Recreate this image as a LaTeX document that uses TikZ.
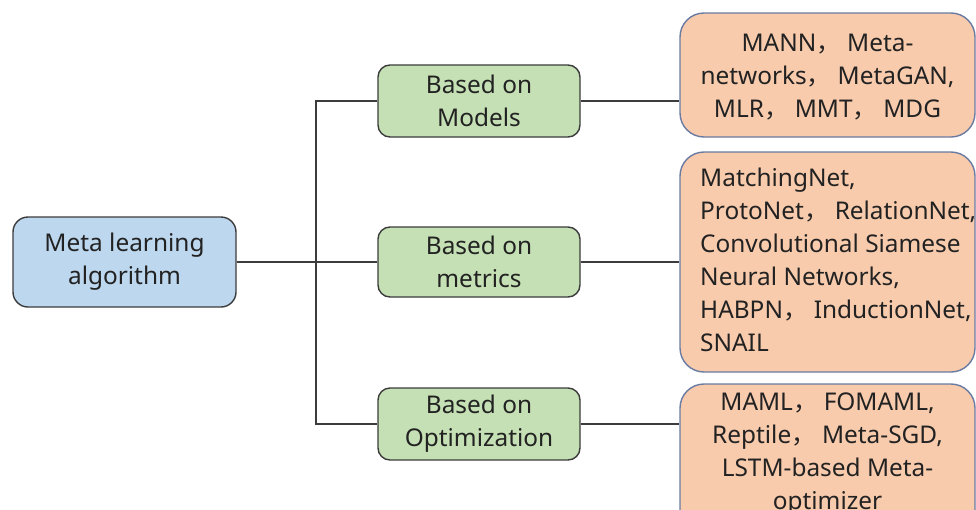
\documentclass[tikz,border=0pt]{standalone}
\usepackage{fontspec}
\setmainfont{Noto Sans}
\newfontfamily\cjk{Noto Sans CJK SC}
\newcommand\fc{{\cjk ，}\ }
\definecolor{bluefill}{HTML}{BDD7EE}
\definecolor{greenfill}{HTML}{C5E0B4}
\definecolor{orangefill}{HTML}{F8CBAD}
\definecolor{darkline}{HTML}{3C3C3C}
\definecolor{slateline}{HTML}{6A7BA2}
\definecolor{txt}{HTML}{222222}
\begin{document}
\begin{tikzpicture}[x=1pt,y=-1pt,
  boxtext/.style={font=\fontsize{24.4}{33}\selectfont, text=txt},
  rootbox/.style={draw=darkline, line width=1.4pt, fill=bluefill, rounded corners=15pt,
    minimum width=223pt, minimum height=90pt, inner sep=0pt, align=center, boxtext},
  greenbox/.style={draw=darkline, line width=1.4pt, fill=greenfill, rounded corners=12pt,
    minimum width=202pt, minimum height=72pt, inner sep=0pt, align=center, boxtext},
  orangebox/.style={draw=slateline, line width=1.4pt, fill=orangefill, rounded corners=24pt,
    minimum width=295pt, inner sep=0pt},
  conn/.style={draw=darkline, line width=1.3pt}
]
\path[use as bounding box] (0,0) rectangle (976,509);
\clip (0,0) rectangle (976,509);

\node[rootbox] (root) at (124.5,262) {Meta learning\\algorithm};
\node[greenbox] (g1) at (479,101) {Based on\\Models};
\node[greenbox, minimum height=70pt] (g2) at (479,262) {Based on\\metrics};
\node[greenbox] (g3) at (479,424) {Based on\\Optimization};

\node[orangebox, minimum height=124pt] (o1) at (827.5,75) {};
\node[boxtext, align=center, inner sep=0pt] (o1t) at (827.5,77)
  {MANN\fc Meta-\\networks\fc MetaGAN,\\MLR\fc MMT\fc MDG};

\node[orangebox, minimum height=220pt] (o2) at (827.5,262) {};
\node[boxtext, align=left, inner sep=0pt, anchor=west] (o2t) at (700,260)
  {MatchingNet,\\ProtoNet\fc RelationNet,\\Convolutional Siamese\\Neural Networks,\\HABPN\fc InductionNet,\\SNAIL};

\node[orangebox, minimum height=160pt] (o3) at (827.5,464) {};
\node[boxtext, align=center, inner sep=0pt, anchor=north] (o3t) at (827.5,393)
  {MAML\fc FOMAML,\\Reptile\fc Meta-SGD,\\LSTM-based Meta-\\optimizer};

\coordinate (trunk) at (316,262);
\draw[conn] (root.east) -- (g2.west);
\draw[conn] (g1.west) -| (trunk) |- (g3.west);
\draw[conn] (g1.east) -- (g1.east -| o1.west);
\draw[conn] (g2.east) -- (g2.east -| o2.west);
\draw[conn] (g3.east) -- (g3.east -| o3.west);
\end{tikzpicture}
\end{document}
